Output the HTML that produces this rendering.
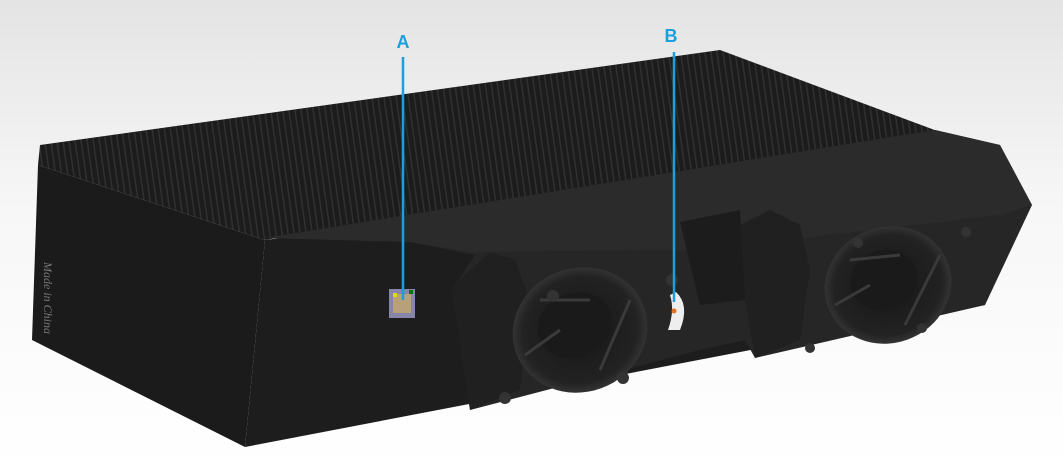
<!DOCTYPE html>
<html><head><meta charset="utf-8"><style>
html,body{margin:0;padding:0;width:1063px;height:466px;overflow:hidden;background:#fff}
</style></head><body>
<svg width="1063" height="466" viewBox="0 0 1063 466" xmlns="http://www.w3.org/2000/svg">
<defs>
<linearGradient id="bg" x1="0" y1="0" x2="0" y2="1">
<stop offset="0" stop-color="#e4e4e4"/><stop offset="0.45" stop-color="#f7f7f7"/><stop offset="1" stop-color="#fff"/>
</linearGradient>
<pattern id="fins" patternUnits="userSpaceOnUse" width="6" height="6" patternTransform="rotate(-8)">
<rect width="6" height="6" fill="#1c1c1c"/><rect width="1.5" height="6" fill="#303030"/>
</pattern>
<radialGradient id="fan" cx="0.5" cy="0.5" r="0.5">
<stop offset="0" stop-color="#161616"/><stop offset="0.85" stop-color="#222"/><stop offset="1" stop-color="#333"/>
</radialGradient>
</defs>
<rect width="1063" height="466" fill="url(#bg)"/>
<!-- fins top -->
<polygon points="40,145 720,50 940,132 265,240 38,165" fill="url(#fins)"/>
<!-- left face -->
<polygon points="38,165 265,240 245,447 32,340" fill="#1b1b1b"/>
<!-- front face -->
<polygon points="265,240 990,150 985,305 245,447" fill="#1d1d1d"/>
<!-- housing -->
<polygon points="265,238 935,130 1000,145 1032,205 985,305 755,358 745,340 700,350 470,410 452,290 475,255 410,242" fill="#262626"/>
<polygon points="265,238 935,130 1000,145 1032,205 1000,215 700,250 470,252 410,242" fill="#2b2b2b"/>
<polygon points="460,280 490,252 515,260 530,300 520,390 470,410 452,290" fill="#202020"/>
<polygon points="740,225 770,210 800,225 810,270 800,340 755,358 745,300" fill="#202020"/>
<polygon points="680,222 740,210 745,300 700,305" fill="#1c1c1c"/>
<!-- fans -->
<ellipse cx="580" cy="330" rx="68" ry="62" fill="url(#fan)" transform="rotate(-20 580 330)"/>
<ellipse cx="575" cy="325" rx="38" ry="32" fill="#1a1a1a" transform="rotate(-20 575 325)"/>
<path d="M525,355 L560,330 M600,370 L630,300 M540,300 L590,300" stroke="#3a3a3a" stroke-width="3"/>
<ellipse cx="888" cy="285" rx="64" ry="58" fill="url(#fan)" transform="rotate(-20 888 285)"/>
<ellipse cx="884" cy="280" rx="34" ry="30" fill="#1a1a1a" transform="rotate(-20 884 280)"/>
<path d="M835,305 L870,285 M905,325 L940,255 M850,260 L900,255" stroke="#3a3a3a" stroke-width="3"/>
<g fill="#333"><circle cx="553" cy="296" r="6"/><circle cx="623" cy="378" r="6"/><circle cx="505" cy="398" r="6"/><circle cx="672" cy="280" r="6"/><circle cx="858" cy="243" r="5"/><circle cx="922" cy="328" r="5"/><circle cx="966" cy="232" r="5"/><circle cx="810" cy="348" r="5"/></g>
<!-- port B -->
<path d="M676,292 Q690,305 680,330 L668,330 Q675,310 670,295 Z" fill="#eee"/>
<circle cx="674" cy="311" r="2.5" fill="#e07020"/>
<!-- RJ45 -->
<rect x="389" y="289" width="26" height="29" fill="#8886a8"/>
<rect x="393" y="294" width="18" height="19" fill="#b8a078"/>
<rect x="393" y="293" width="4" height="4" fill="#dd0"/>
<rect x="409" y="290" width="4" height="4" fill="#070"/>
<text x="0" y="0" transform="translate(44,262) rotate(90)" font-family="Liberation Serif,serif" font-style="italic" font-size="12" fill="#777">Made in China</text>
<!-- callouts -->
<line x1="403" y1="57" x2="403" y2="300" stroke="#1aa0dc" stroke-width="2.5"/>
<line x1="674" y1="52" x2="674" y2="302" stroke="#1aa0dc" stroke-width="2.5"/>
<text x="403" y="48" text-anchor="middle" font-family="Liberation Sans,sans-serif" font-weight="bold" font-size="18" fill="#1aa0dc">A</text>
<text x="671" y="42" text-anchor="middle" font-family="Liberation Sans,sans-serif" font-weight="bold" font-size="18" fill="#1aa0dc">B</text>
</svg>
</body></html>
